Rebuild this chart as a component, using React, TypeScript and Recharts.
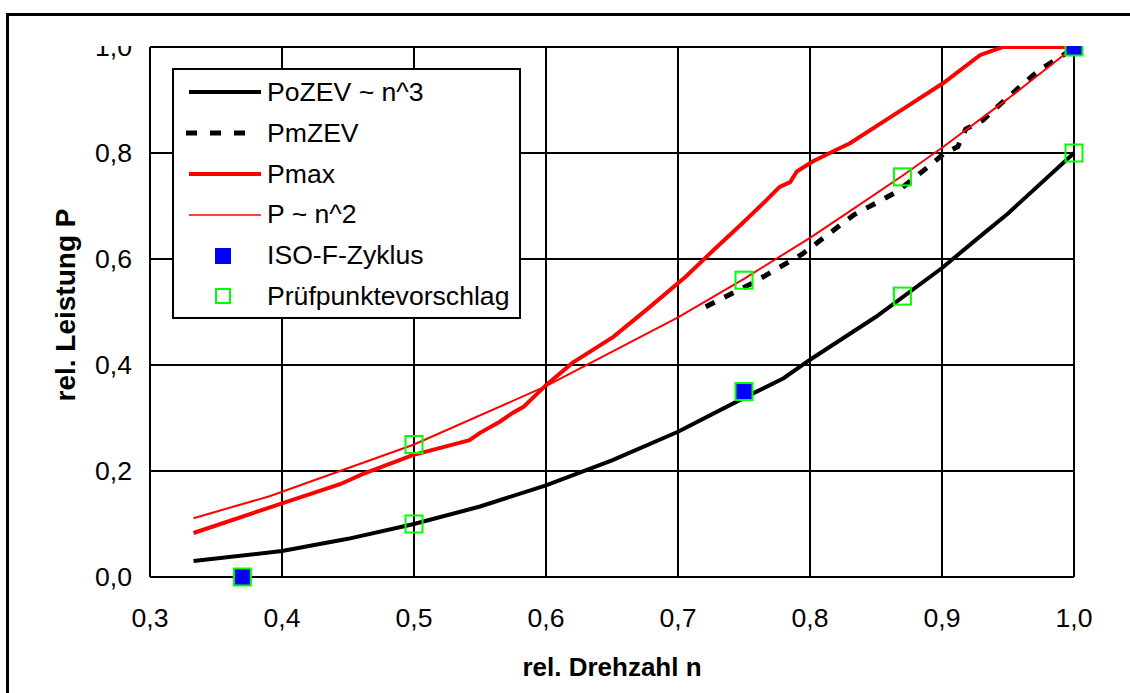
import React from 'react';
import { ComposedChart, Line, Scatter, XAxis, YAxis, CartesianGrid, Legend } from 'recharts';

const FONT = '"Liberation Sans", Arial, Helvetica, sans-serif';

// rel. Drehzahl n -> rel. Leistung P
const poZevN = [0.333, 0.4, 0.45, 0.5, 0.55, 0.6, 0.65, 0.7, 0.75, 0.78, 0.8, 0.85, 0.9, 0.93, 0.95, 1.0];
const poZevP = [0.03, 0.049, 0.072, 0.1, 0.133, 0.173, 0.22, 0.274, 0.338, 0.375, 0.41, 0.491, 0.583, 0.645, 0.686, 0.8];

const pmZevN = [0.721, 0.756, 0.794, 0.833, 0.866, 0.893, 0.902, 0.912, 0.918, 0.931, 0.945, 0.959, 0.974, 0.992, 1.0];
const pmZevP = [0.51, 0.554, 0.609, 0.683, 0.727, 0.781, 0.8, 0.812, 0.845, 0.862, 0.894, 0.925, 0.957, 0.985, 1.0];

const pmaxN = [0.333, 0.4, 0.444, 0.461, 0.499, 0.525, 0.542, 0.55, 0.565, 0.575, 0.583, 0.6, 0.62, 0.651, 0.676, 0.706, 0.727, 0.749, 0.767, 0.777, 0.785, 0.79, 0.802, 0.82, 0.83, 0.873, 0.901, 0.929, 0.946, 1.0];
const pmaxP = [0.083, 0.139, 0.175, 0.194, 0.23, 0.247, 0.258, 0.272, 0.293, 0.31, 0.321, 0.362, 0.404, 0.453, 0.504, 0.567, 0.617, 0.668, 0.711, 0.736, 0.745, 0.765, 0.784, 0.806, 0.818, 0.887, 0.932, 0.985, 1.0, 1.0];

const pn2N = [0.333, 0.39, 0.5, 0.6, 0.7, 0.75, 0.8, 0.83, 0.87, 0.9, 0.95, 1.0];
const pn2P = [0.111, 0.152, 0.25, 0.36, 0.49, 0.5625, 0.64, 0.69, 0.757, 0.81, 0.9025, 1.0];

const isoN = [0.37, 0.75, 1.0];
const isoP = [0.0, 0.35, 1.0];

const pruefN = [0.37, 0.5, 0.5, 0.75, 0.75, 0.87, 0.87, 1.0, 1.0];
const pruefP = [0.0, 0.1, 0.25, 0.35, 0.56, 0.53, 0.755, 0.8, 1.0];

const xTicks = [0.3, 0.4, 0.5, 0.6, 0.7, 0.8, 0.9, 1.0];
const yTicks = [0, 0.2, 0.4, 0.6, 0.8, 1.0];

const legendItems = [
  { label: 'PoZEV ~ n^3', kind: 'line', color: '#000000', width: 4, dash: undefined },
  { label: 'PmZEV', kind: 'line', color: '#000000', width: 5, dash: '11 13' },
  { label: 'Pmax', kind: 'line', color: '#ff0000', width: 4, dash: undefined },
  { label: 'P ~ n^2', kind: 'line', color: '#ff0000', width: 1.5, dash: undefined },
  { label: 'ISO-F-Zyklus', kind: 'filled', color: '#0000ff', width: 0, dash: undefined },
  { label: 'Prüfpunktevorschlag', kind: 'hollow', color: '#00ff00', width: 2, dash: undefined },
];

const toPoints = (n: number[], p: number[]) => n.map((v, i) => ({ n: v, p: p[i] }));
const fmt = (v: number) => v.toFixed(1).replace('.', ',');

const IsoShape = (props: any) => (
  <rect x={props.cx - 8.5} y={props.cy - 8.5} width={17} height={17} fill="#0000ff" />
);
const PruefShape = (props: any) => (
  <rect x={props.cx - 8.5} y={props.cy - 8.5} width={17} height={17} fill="none" stroke="#00ff00" strokeWidth={2} />
);

function LegendBox() {
  return (
    <div
      style={{
        boxSizing: 'border-box',
        width: 349,
        height: 251,
        border: '2px solid #000',
        background: '#fff',
        paddingTop: 2,
        fontFamily: FONT,
        fontSize: 26.6,
        color: '#000',
      }}
    >
      {legendItems.map((item) => (
        <div key={item.label} style={{ display: 'flex', alignItems: 'center', height: 40.8 }}>
          <svg width={93} height={40} style={{ flex: 'none', display: 'block' }}>
            {item.kind === 'line' && (
              <line
                x1={item.dash ? 12 : 15}
                x2={item.dash ? 79 : 87}
                y1={20}
                y2={20}
                stroke={item.color}
                strokeWidth={item.width}
                strokeDasharray={item.dash}
              />
            )}
            {item.kind === 'filled' && <rect x={41} y={12} width={16} height={16} fill={item.color} />}
            {item.kind === 'hollow' && (
              <rect x={42} y={13} width={14} height={14} fill="none" stroke={item.color} strokeWidth={2} />
            )}
          </svg>
          <span style={{ whiteSpace: 'pre', lineHeight: '40.8px' }}>{item.label}</span>
        </div>
      ))}
    </div>
  );
}

export default function App() {
  return (
    <div style={{ position: 'absolute', left: 0, top: 0, width: 1130, height: 693, overflow: 'hidden', background: '#fff' }}>
      <ComposedChart
        width={1130}
        height={693}
        margin={{ top: 47, right: 56, bottom: 46, left: 80 }}
        style={{ fontFamily: FONT }}
      >
        <CartesianGrid stroke="#000" strokeWidth={2} />
        <XAxis
          type="number"
          dataKey="n"
          domain={[0.3, 1.0]}
          ticks={xTicks}
          interval={0}
          tickFormatter={fmt}
          tick={{ fontSize: 26.6, fill: '#000', fontFamily: FONT }}
          tickLine={false}
          tickSize={0}
          tickMargin={31}
          axisLine={{ stroke: '#000', strokeWidth: 2 }}
          height={70}
          label={{
            content: (p: any) => (
              <text
                x={p.viewBox.x + p.viewBox.width / 2}
                y={676}
                textAnchor="middle"
                fontSize={26}
                fontWeight="bold"
                fontFamily={FONT}
                fill="#000"
              >
                rel. Drehzahl n
              </text>
            ),
          }}
        />
        <YAxis
          type="number"
          domain={[0, 1]}
          ticks={yTicks}
          interval={0}
          tickFormatter={fmt}
          tick={{ fontSize: 26.6, fill: '#000', fontFamily: FONT }}
          tickLine={false}
          tickSize={0}
          tickMargin={18}
          axisLine={{ stroke: '#000', strokeWidth: 2 }}
          width={70}
          label={{
            content: (p: any) => (
              <text
                x={75}
                y={p.viewBox.y + p.viewBox.height / 2 - 7}
                transform={`rotate(-90, 75, ${p.viewBox.y + p.viewBox.height / 2 - 7})`}
                textAnchor="middle"
                fontSize={28}
                fontWeight="bold"
                fontFamily={FONT}
                fill="#000"
              >
                rel. Leistung P
              </text>
            ),
          }}
        />

        <Line data={toPoints(poZevN, poZevP)} dataKey="p" type="linear" stroke="#000" strokeWidth={4} dot={false} isAnimationActive={false} />
        <Line data={toPoints(pmZevN, pmZevP)} dataKey="p" type="linear" stroke="#000" strokeWidth={5} strokeDasharray="10 11" dot={false} isAnimationActive={false} />
        <Line data={toPoints(pmaxN, pmaxP)} dataKey="p" type="linear" stroke="#ff0000" strokeWidth={4} dot={false} isAnimationActive={false} />
        <Line data={toPoints(pn2N, pn2P)} dataKey="p" type="linear" stroke="#ff0000" strokeWidth={2} dot={false} isAnimationActive={false} />
        <Scatter data={toPoints(isoN, isoP)} dataKey="p" shape={IsoShape} isAnimationActive={false} />
        <Scatter data={toPoints(pruefN, pruefP)} dataKey="p" shape={PruefShape} isAnimationActive={false} />

        <Legend
          verticalAlign="middle"
          align="center"
          content={() => <LegendBox />}
          wrapperStyle={{ left: 172, top: 68, width: 349, height: 251 }}
        />
      </ComposedChart>

      {/* oberer Bildrand ist im Original abgeschnitten */}
      <div style={{ position: 'absolute', left: 9, top: 16, width: 1121, height: 30, background: '#fff' }} />
      <div
        style={{
          position: 'absolute',
          left: 6,
          top: 13,
          width: 1200,
          height: 800,
          borderTop: '3px solid #000',
          borderLeft: '3px solid #000',
          pointerEvents: 'none',
        }}
      />
    </div>
  );
}
